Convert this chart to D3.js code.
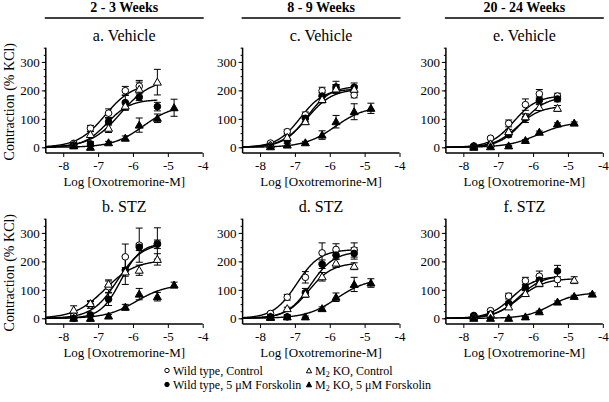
<!DOCTYPE html>
<html><head><meta charset="utf-8">
<script src="https://cdn.jsdelivr.net/npm/d3@7"></script>
</head><body style="margin:0;background:#fff"><svg id="c" width="609" height="402" style="display:block"></svg>
<script>
// ---------- DATA ----------
const doses = [-7.7, -7.22, -6.7, -6.22, -5.82, -5.3, -4.82, -4.3];
const xTicks = [-8, -7, -6, -5, -4];
const yTicks = [0, 100, 200, 300];
const ageGroups = ["2 - 3 Weeks", "8 - 9 Weeks", "20 - 24 Weeks"];
const panelTitles = ["a. Vehicle", "b. STZ", "c. Vehicle", "d. STZ", "e. Vehicle", "f. STZ"];
const seriesNames = ["Wild type, Control", "Wild type, 5 \u03bcM Forskolin", "M2 KO, Control", "M2 KO, 5 \u03bcM Forskolin"];

// values (% KCl) per panel, order: WT ctrl, WT forskolin, M2KO ctrl, M2KO forskolin
const valA = [[14,67,120,199,215,null],[8,12,90,157,176,143],[10,45,67,145,204,229],[5,0,16,32,78,102,139]];
const errA = [[5,10,15,15,20,null],[5,8,12,25,12,15],[5,10,15,15,25,45],[3,4,5,8,25,15,30]];
const valB = [[8,47,111,216,257,263],[0,12,67,169,250,260],[29,52,120,163,169,207],[0,0,8,39,85,76,117]];
const errB = [[8,12,20,45,60,55],[3,6,22,50,12,15],[15,10,15,15,18,20],[3,10,5,10,20,15,10]];
const valC = [[15,55,114,199,205,184],[5,25,102,180,212,211],[8,35,90,168,205,204],[2,8,16,43,90,125,137]];
const errC = [[5,8,10,12,15,10],[4,6,12,12,20,15],[4,6,10,12,15,12],[3,5,5,15,22,28,18]];
const valD = [[17,74,144,230,242,240],[5,5,90,190,222,228],[3,34,85,146,194,183],[5,5,5,34,74,119,124]];
const errD = [[5,10,20,35,20,25],[3,5,15,15,15,20],[3,5,10,15,15,12],[3,8,3,6,15,25,15]];
const valE = [[5,32,84,150,188,180],[3,10,44,102,165,170],[4,12,55,107,140,137],[0,2,5,24,53,82,85]];
const errE = [[4,5,12,20,15,10],[3,4,8,15,12,10],[3,4,8,10,10,10],[2,2,2,3,4,4,4]];
const valF = [[8,27,78,132,148,136],[10,15,52,108,134,166],[5,15,40,87,123,null,134],[0,0,0,5,23,57,77,85]];
const errF = [[4,5,10,12,18,25],[4,5,8,10,15,20],[3,4,8,10,12,null,12],[2,2,2,2,3,4,4,4]];

// fitted sigmoid parameters [top, logEC50, hill] per series
const fitA = [[225,-6.8,1.1],[168,-6.75,1.3],[240,-6.35,1.0],[150,-5.7,1.0]];
const fitB = [[265,-6.45,1.2],[265,-6.35,1.5],[205,-6.8,1.0],[120,-5.9,1.0]];
const fitC = [[205,-6.85,1.3],[215,-6.65,1.3],[205,-6.65,1.2],[145,-5.85,1.0]];
const fitD = [[242,-6.95,1.3],[235,-6.55,1.3],[195,-6.6,1.3],[140,-5.8,1.0]];
const fitE = [[182,-6.55,1.3],[178,-6.3,1.3],[145,-6.45,1.3],[90,-5.85,1.0]];
const fitF = [[148,-6.6,1.3],[150,-6.4,1.3],[140,-6.4,1.2],[90,-5.5,1.2]];

const panels = [
  {col:0,row:0,title:panelTitles[0],val:valA,err:errA,fit:fitA},
  {col:0,row:1,title:panelTitles[1],val:valB,err:errB,fit:fitB},
  {col:1,row:0,title:panelTitles[2],val:valC,err:errC,fit:fitC},
  {col:1,row:1,title:panelTitles[3],val:valD,err:errD,fit:fitD},
  {col:2,row:0,title:panelTitles[4],val:valE,err:errE,fit:fitE},
  {col:2,row:1,title:panelTitles[5],val:valF,err:errF,fit:fitF}
];

// ---------- LAYOUT ----------
const svg = d3.select("#c");
const colX = [45.8, 242.6, 445.9];
const plotW = 156.9;
const rowTop = [47.7, 218.7];
const plotH = 105.3;
const markerType = ["openCircle","filledCircle","openTri","filledTri"];

function txt(sel) { sel.style("font-family", `"Liberation Serif"`); sel.attr("fill", "#000"); return sel; }

function marker(g, type, x, y) {
  if (type === "openCircle" || type === "filledCircle") {
    g.append("circle").attr("cx", x).attr("cy", y).attr("r", 3.3)
      .attr("fill", type === "openCircle" ? "#fff" : "#000").attr("stroke", "#000").attr("stroke-width", 1);
  } else {
    const s = 4;
    g.append("path").attr("d", `M${x},${y-s}L${x+s},${y+s*0.75}L${x-s},${y+s*0.75}Z`)
      .attr("fill", type === "openTri" ? "#fff" : "#000").attr("stroke", "#000").attr("stroke-width", 1);
  }
}

// headers
ageGroups.forEach((t, i) => {
  const cx = colX[i] + plotW / 2;
  txt(svg.append("text").attr("x", cx).attr("y", 12).attr("text-anchor", "middle")
    .attr("font-size", 14).attr("font-weight", "bold").text(t));
  svg.append("line").attr("x1", colX[i] - 1).attr("x2", colX[i] + plotW + 1)
    .attr("y1", 18).attr("y2", 18).attr("stroke", "#000").attr("stroke-width", 1.5);
});

panels.forEach(p => {
  const x0 = colX[p.col], y0 = rowTop[p.row];
  const x = d3.scaleLinear().domain([-8.5, -4]).range([x0, x0 + plotW]);
  const y = d3.scaleLinear().domain([-20, 350]).range([y0 + plotH, y0]);
  const g = svg.append("g");

  // title
  txt(svg.append("text").attr("x", x0 + plotW / 2).attr("y", y0 - 7).attr("text-anchor", "middle")
    .attr("font-size", 16).text(p.title));

  // axes
  const ya = g.append("g").attr("transform", `translate(${x0},0)`)
    .call(d3.axisLeft(y).tickValues(d3.range(0, 351, 25)).tickSize(2).tickFormat(""));
  ya.select(".domain").remove();
  ya.selectAll("line").attr("stroke-width", 1);
  const ym = g.append("g").attr("transform", `translate(${x0},0)`)
    .call(d3.axisLeft(y).tickValues(yTicks).tickSize(4).tickPadding(2));
  ym.attr("font-family", null);
  ym.select(".domain").remove();
  txt(ym.selectAll("text").attr("font-size", 13));
  g.append("line").attr("x1", x0).attr("x2", x0).attr("y1", y0).attr("y2", y0 + plotH)
    .attr("stroke", "#000").attr("stroke-width", 1.5);

  const xa = g.append("g").attr("transform", `translate(0,${y0 + plotH})`)
    .call(d3.axisBottom(x).tickValues(xTicks).tickSize(4).tickPadding(4).tickFormat(d3.format("d")));
  xa.attr("font-family", null);
  xa.select(".domain").remove();
  txt(xa.selectAll("text").attr("font-size", 13).text(d => "-" + Math.abs(d)));
  g.append("line").attr("x1", x0).attr("x2", x0 + plotW).attr("y1", y0 + plotH).attr("y2", y0 + plotH)
    .attr("stroke", "#000").attr("stroke-width", 1.5);

  // x label
  txt(svg.append("text").attr("x", x0 + plotW / 2).attr("y", y0 + plotH + 33).attr("text-anchor", "middle")
    .attr("font-size", 13).text("Log [Oxotremorine-M]"));

  // curves
  p.fit.forEach((f, si) => {
    const vals = p.val[si];
    let lastIdx = 0;
    vals.forEach((v, i) => { if (v !== null) lastIdx = i; });
    const xEnd = doses[lastIdx];
    const pts = d3.range(0, 201).map(k => {
      const lx = -8.5 + (xEnd + 8.5) * k / 200;
      return [lx, f[0] / (1 + Math.pow(10, f[2] * (f[1] - lx)))];
    });
    g.append("path").attr("d", d3.line().x(d => x(d[0])).y(d => y(d[1]))(pts))
      .attr("fill", "none").attr("stroke", "#000").attr("stroke-width", 1.4);
  });

  // error bars
  p.val.forEach((vals, si) => {
    vals.forEach((v, i) => {
      if (v === null) return;
      const e = p.err[si][i] || 0;
      const cx = x(doses[i]);
      g.append("line").attr("x1", cx).attr("x2", cx).attr("y1", y(v - e)).attr("y2", y(v + e))
        .attr("stroke", "#000").attr("stroke-width", 1);
      [v - e, v + e].forEach(b => g.append("line").attr("x1", cx - 3.5).attr("x2", cx + 3.5)
        .attr("y1", y(b)).attr("y2", y(b)).attr("stroke", "#000").attr("stroke-width", 1));
    });
  });
  // markers
  p.val.forEach((vals, si) => {
    vals.forEach((v, i) => {
      if (v === null) return;
      marker(g, markerType[si], x(doses[i]), y(v));
    });
  });
});

// y axis titles
[0, 1].forEach(r => {
  txt(svg.append("text").attr("transform", `translate(14,${rowTop[r] + 54}) rotate(-90)`)
    .attr("text-anchor", "middle").attr("font-size", 14).text("Contraction (% KCl)"));
});

// legend
const legend = [
  {type: "openCircle", x: 167, y: 371, label: seriesNames[0]},
  {type: "filledCircle", x: 167, y: 385, label: seriesNames[1]},
  {type: "openTri", x: 309, y: 371, label: seriesNames[2]},
  {type: "filledTri", x: 309, y: 385, label: seriesNames[3]}
];
legend.forEach(l => {
  const lg = svg.append("g");
  if (l.type === "openCircle" || l.type === "filledCircle") {
    lg.append("circle").attr("cx", l.x).attr("cy", l.y - 0.5).attr("r", 2.2)
      .attr("fill", l.type === "openCircle" ? "#fff" : "#000").attr("stroke", "#000").attr("stroke-width", 1);
  } else {
    const s = 2.6;
    lg.append("path").attr("d", `M${l.x},${l.y - s - 0.5}L${l.x + s},${l.y + s * 0.7}L${l.x - s},${l.y + s * 0.7}Z`)
      .attr("fill", l.type === "openTri" ? "#fff" : "#000").attr("stroke", "#000").attr("stroke-width", 1);
  }
  const t = txt(lg.append("text").attr("x", l.x + 6).attr("y", l.y + 4).attr("font-size", 12));
  if (l.label.startsWith("M2")) {
    t.append("tspan").text("M");
    t.append("tspan").attr("font-size", 8).attr("dy", 2).text("2");
    t.append("tspan").attr("dy", -2).text(l.label.slice(2));
  } else {
    t.text(l.label);
  }
});
</script></body></html>
